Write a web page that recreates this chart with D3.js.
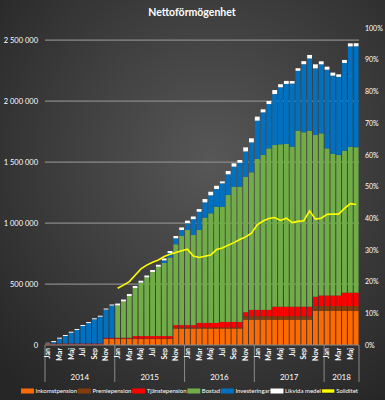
<!DOCTYPE html>
<html>
<head>
<meta charset="utf-8">
<script src="https://cdn.jsdelivr.net/npm/d3@7"></script>
<style>
  body { margin: 0; background: #333; }
  svg { display: block; font-family: Lato, "Open Sans", sans-serif; }
</style>
</head>
<body>
<div class="chart"></div>
<script>
var svgWidth = 385;
var svgHeight = 400;

// plot area, in pixels of the page
var margin = { top: 28, right: 26, bottom: 55, left: 45 };
var width = svgWidth - margin.left - margin.right;
var height = svgHeight - margin.top - margin.bottom;

// Data, Jan 2014 - Jun 2018 (kr)
var years = ["2014", "2015", "2016", "2017", "2018"];
var monthNames = ["Jan", "Feb", "Mar", "Apr", "Maj", "Jun", "Jul", "Aug", "Sep", "Okt", "Nov", "Dec"];

var inkomstpension = [
  0, 0, 0, 0, 0, 0, 0, 0, 0, 0, 49000, 49000,
  49000, 49000, 49000, 49000, 49000, 49000, 49000, 49000, 49000, 49000, 135000, 135000,
  135000, 135000, 135000, 135000, 135000, 135000, 135000, 135000, 135000, 135000, 208000, 208000,
  208000, 208000, 208000, 208000, 208000, 208000, 208000, 208000, 208000, 208000, 279000, 279000,
  279000, 279000, 279000, 279000, 279000, 279000
];
var premiepension = [
  4000, 4000, 4000, 4000, 4000, 4000, 4000, 4000, 4000, 4000, 4000, 4000,
  4000, 4000, 4000, 4000, 4000, 4000, 4000, 4000, 4000, 4000, 8000, 8000,
  8000, 8000, 8000, 8000, 8000, 8000, 8000, 8000, 8000, 8000, 28000, 28000,
  28000, 28000, 28000, 28000, 28000, 28000, 28000, 28000, 28000, 28000, 41000, 41000,
  41000, 41000, 41000, 41000, 41000, 41000
];
var tjanstepension = [
  8000, 8000, 8000, 8000, 8000, 8000, 8000, 8000, 8000, 8000, 6000, 6000,
  6000, 6000, 6000, 20000, 20000, 20000, 20000, 20000, 20000, 20000, 20000, 20000,
  20000, 20000, 38000, 38000, 38000, 38000, 46000, 46000, 46000, 46000, 33000, 52000,
  52000, 52000, 52000, 78000, 78000, 78000, 78000, 78000, 78000, 78000, 76000, 86000,
  86000, 86000, 86000, 109000, 109000, 109000
];
var bostad = [
  0, 0, 0, 0, 0, 0, 0, 0, 0, 0, 0, 0,
  265000, 298000, 343000, 395000, 438000, 481000, 526000, 569000, 600000, 645000, 663000, 733000,
  780000, 739000, 762000, 863000, 899000, 953000, 945000, 1041000, 1109000, 1109000, 1111000, 1128000,
  1238000, 1270000, 1325000, 1326000, 1332000, 1335000, 1312000, 1444000, 1431000, 1444000, 1326000, 1330000,
  1207000, 1161000, 1152000, 1165000, 1197000, 1193000
];
var investeringar = [
  3000, 12000, 40000, 62000, 89000, 111000, 144000, 168000, 199000, 220000, 232000, 265000,
  0, 0, 0, 0, 0, 0, 0, 0, 21000, 37000, 49000, 47000,
  56000, 130000, 150000, 126000, 148000, 145000, 192000, 170000, 165000, 197000, 208000, 246000,
  314000, 350000, 363000, 418000, 468000, 492000, 518000, 491000, 558000, 592000, 547000, 566000,
  645000, 642000, 641000, 719000, 823000, 828000
];
var likvidaMedel = [
  3000, 8000, 8000, 8000, 8000, 8000, 8000, 8000, 8000, 8000, 8000, 8000,
  16000, 16000, 16000, 16000, 16000, 16000, 16000, 16000, 16000, 16000, 19000, 21000,
  21000, 22000, 22000, 27000, 29000, 27000, 16000, 27000, 27000, 22000, 33000, 33000,
  33000, 25000, 25000, 33000, 25000, 25000, 21000, 21000, 25000, 29000, 33000, 25000,
  25000, 25000, 21000, 25000, 25000, 25000
];
// Soliditet in percent, starts Jan 2015
var soliditet = [
  null, null, null, null, null, null, null, null, null, null, null, null,
  17.9, 18.9, 20.0, 22.0, 24.0, 25.2, 26.1, 26.8, 27.9, 28.6, 29.2, 29.7,
  30.2, 28.1, 27.6, 28.0, 28.4, 30.1, 30.6, 31.5, 32.3, 33.3, 34.1, 35.3,
  37.9, 39.1, 39.9, 40.2, 39.3, 40.0, 38.6, 39.0, 39.2, 42.3, 39.7, 40.0,
  41.2, 41.3, 41.3, 43.1, 44.6, 44.3
];

var leftTicks = [0, 500000, 1000000, 1500000, 2000000, 2500000];
var rightTicks = [0, 0.1, 0.2, 0.3, 0.4, 0.5, 0.6, 0.7, 0.8, 0.9, 1];

var seriesKeys = ["Inkomstpension", "Premiepension", "Tjänstepension", "Bostad", "Investeringar", "Likvida medel"];
var seriesColors = ["#ff6a00", "#843c0c", "#ff0000", "#70ad47", "#0070c0", "#ffffff"];

// build the table d3.stack needs
var table = inkomstpension.map(function(v, i) {
  return {
    i: i,
    "Inkomstpension": v,
    "Premiepension": premiepension[i],
    "Tjänstepension": tjanstepension[i],
    "Bostad": bostad[i],
    "Investeringar": investeringar[i],
    "Likvida medel": likvidaMedel[i]
  };
});

var svg = d3.select(".chart")
  .append("svg")
  .attr("width", svgWidth)
  .attr("height", svgHeight);

// background gradient
var defs = svg.append("defs");
var grad = defs.append("radialGradient")
  .attr("id", "bg")
  .attr("cx", "55%").attr("cy", "40%").attr("r", "75%");
grad.append("stop").attr("offset", "0%").attr("stop-color", "#575757");
grad.append("stop").attr("offset", "100%").attr("stop-color", "#262626");

svg.append("rect")
  .attr("width", svgWidth)
  .attr("height", svgHeight)
  .attr("fill", "url(#bg)");

svg.append("text")
  .attr("x", 192)
  .attr("y", 16)
  .attr("text-anchor", "middle")
  .attr("fill", "#ffffff")
  .attr("font-size", "10.5px")
  .attr("font-weight", "bold")
  .text("Nettoförmögenhet");

var chartGroup = svg.append("g")
  .attr("transform", `translate(${margin.left}, ${margin.top})`);

var xScale = d3.scaleBand()
  .domain(d3.range(inkomstpension.length))
  .range([0, width])
  .paddingInner(0.17)
  .paddingOuter(0.08);

var yScale = d3.scaleLinear()
  .domain([0, 2600000])
  .range([height, 0]);

var yRight = d3.scaleLinear()
  .domain([0, 1])
  .range([height, 0]);

// gridlines
chartGroup.append("g")
  .selectAll("line")
  .data(leftTicks.slice(1))
  .enter()
  .append("line")
  .attr("x1", 0)
  .attr("x2", width)
  .attr("y1", d => yScale(d))
  .attr("y2", d => yScale(d))
  .attr("stroke", "#8a8a8a")
  .attr("stroke-width", 1.3);

// left axis
var leftAxis = d3.axisLeft(yScale)
  .tickValues(leftTicks)
  .tickSize(0)
  .tickPadding(7)
  .tickFormat(d => d3.format(",")(d).replace(/,/g, " "));

chartGroup.append("g")
  .call(leftAxis)
  .call(g => g.select(".domain").remove())
  .selectAll("text")
  .attr("fill", "#ffffff")
  .attr("font-size", "7.5px")
  .attr("font-family", "Lato, sans-serif");

// right axis
var rightAxis = d3.axisRight(yRight)
  .tickValues(rightTicks)
  .tickSize(0)
  .tickPadding(6)
  .tickFormat(d3.format(".0%"));

chartGroup.append("g")
  .attr("transform", `translate(${width}, 0)`)
  .call(rightAxis)
  .call(g => g.select(".domain").remove())
  .selectAll("text")
  .attr("fill", "#ffffff")
  .attr("font-size", "7px")
  .attr("font-family", "Lato, sans-serif");

// stacked bars
var stacked = d3.stack().keys(seriesKeys)(table);

chartGroup.append("g")
  .selectAll("g")
  .data(stacked)
  .enter()
  .append("g")
  .attr("fill", (d, i) => seriesColors[i])
  .selectAll("rect")
  .data(d => d)
  .enter()
  .append("rect")
  .attr("x", d => xScale(d.data.i))
  .attr("width", xScale.bandwidth())
  .attr("y", d => yScale(d[1]))
  .attr("height", d => Math.max(0, yScale(d[0]) - yScale(d[1])));

// soliditet line
var line = d3.line()
  .defined(d => d !== null)
  .x((d, i) => xScale(i) + xScale.bandwidth() / 2)
  .y(d => yRight(d / 100));

chartGroup.append("path")
  .datum(soliditet)
  .attr("fill", "none")
  .attr("stroke", "#ffff00")
  .attr("stroke-width", 1.6)
  .attr("d", line);

// x axis line and year separators
chartGroup.append("line")
  .attr("x1", 0).attr("x2", width)
  .attr("y1", height).attr("y2", height)
  .attr("stroke", "#8a8a8a")
  .attr("stroke-width", 1);

var step = width / inkomstpension.length;
var yearBounds = [0, 12, 24, 36, 48, inkomstpension.length];

chartGroup.append("g")
  .selectAll("line")
  .data(yearBounds)
  .enter()
  .append("line")
  .attr("x1", d => d * step)
  .attr("x2", d => d * step)
  .attr("y1", height)
  .attr("y2", height + 37)
  .attr("stroke", "#8a8a8a")
  .attr("stroke-width", 1);

// month labels (every second)
chartGroup.append("g")
  .selectAll("text")
  .data(d3.range(inkomstpension.length).filter(i => i % 2 === 0))
  .enter()
  .append("text")
  .attr("transform", i => `translate(${xScale(i) + xScale.bandwidth() / 2}, ${height + 3}) rotate(-90)`)
  .attr("dy", "0.35em")
  .attr("text-anchor", "end")
  .attr("fill", "#ffffff")
  .attr("font-size", "7px")
  .attr("font-weight", "bold")
  .text(i => monthNames[i % 12]);

// year labels
chartGroup.append("g")
  .selectAll("text")
  .data(years)
  .enter()
  .append("text")
  .attr("x", (d, i) => (yearBounds[i] + yearBounds[i + 1]) / 2 * step)
  .attr("y", height + 35)
  .attr("text-anchor", "middle")
  .attr("fill", "#ffffff")
  .attr("font-size", "8px")
  .text(d => d);

// legend, spread between x=21 and x=358
var legendKeys = seriesKeys.concat(["Soliditet"]);
var legend = svg.append("g").attr("transform", "translate(0, 391)");
var items = legendKeys.map(function(key, i) {
  var item = legend.append("g");
  if (key === "Soliditet") {
    item.append("rect")
      .attr("x", 0).attr("y", -2)
      .attr("width", 13).attr("height", 4)
      .attr("fill", "#ffff00")
      .attr("stroke", "#222")
      .attr("stroke-width", 0.6);
  } else {
    item.append("rect")
      .attr("x", 0).attr("y", -2.5)
      .attr("width", 13).attr("height", 5)
      .attr("fill", seriesColors[i]);
  }
  var t = item.append("text")
    .attr("x", 14.5)
    .attr("y", 2.2)
    .attr("fill", "#ffffff")
    .attr("font-size", "6px")
    .text(key);
  return { g: item, w: 14.5 + t.node().getComputedTextLength() };
});
var totalW = d3.sum(items, d => d.w);
var gap = (358 - 21 - totalW) / (items.length - 1);
var lx = 21;
items.forEach(function(d) {
  d.g.attr("transform", `translate(${lx}, 0)`);
  lx += d.w + gap;
});
</script>
</body>
</html>
